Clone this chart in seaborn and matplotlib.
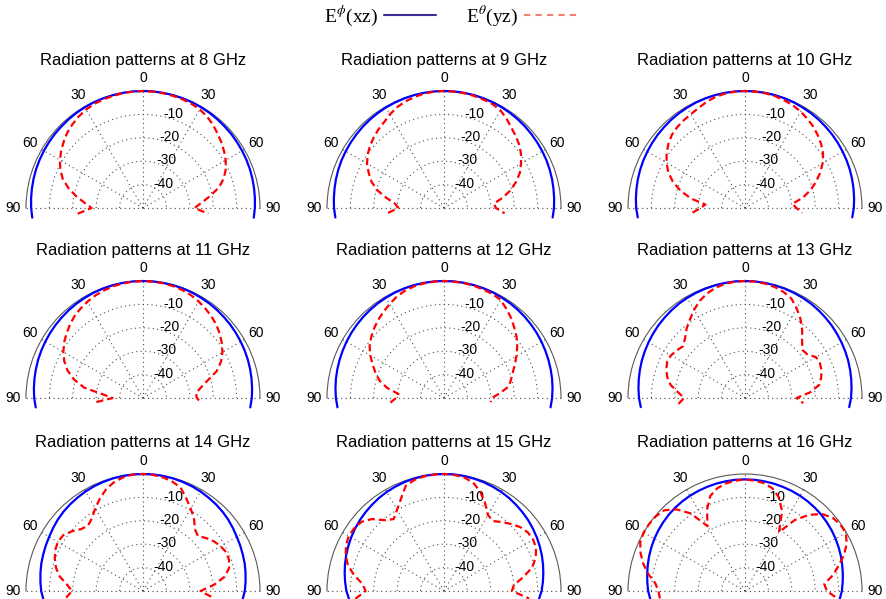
import numpy as np
import matplotlib
matplotlib.use("Agg")
import matplotlib.pyplot as plt
from matplotlib.lines import Line2D
import seaborn as sns

# angles in degrees, 0 = broadside (top), positive to the right
angles = [-95, -90, -85, -80, -75, -70, -65, -60, -55, -50, -45, -40, -35, -30, -25, -20, -15, -10, -5,
          0, 5, 10, 15, 20, 25, 30, 35, 40, 45, 50, 55, 60, 65, 70, 75, 80, 85, 90, 95]

freqs = [8, 9, 10, 11, 12, 13, 14, 15, 16]

# E-theta (yz plane), dB
red_8 = [-22, -28, -25, -21, -17, -13.5, -11, -9, -7.3, -5.8, -4.3, -3.2, -2.2, -1.4, -0.9, -0.6, -0.4, -0.2, -0.1,
         0, -0.1, -0.2, -0.4, -0.6, -0.9, -1.4, -2.3, -3.5, -5, -6.3, -7.7, -9.2, -11, -13.3, -16.5, -21, -25, -28, -22]
red_9 = [-26, -30.5, -29, -25, -20.4, -17, -14.5, -12, -10.2, -8.7, -7.5, -6.3, -5.3, -3.8, -2.5, -1.6, -0.9, -0.4, -0.1,
         0, -0.1, -0.2, -0.4, -0.7, -1.0, -1.8, -3.4, -5.2, -6.6, -8.0, -9.8, -12, -14.2, -17.2, -20.5, -24.5, -28.6, -27.8, -24]
red_10 = [-27.5, -31, -33, -26.5, -21.5, -17.2, -13.8, -11.3, -9.1, -7.3, -5.8, -4.9, -4.3, -3.7, -2.9, -1.8, -0.9, -0.4, -0.1,
          0, -0.1, -0.2, -0.5, -1.0, -1.6, -2.4, -3.5, -4.6, -6, -7.5, -9.3, -11.7, -14.6, -17.8, -21.2, -25, -29.7, -28, -25.5]
red_11 = [-30, -37, -33, -24.5, -19.5, -15.7, -12.9, -10.7, -8.8, -7.3, -5.8, -4.4, -3.4, -2.5, -1.7, -1.1, -0.6, -0.3, -0.1,
          0, -0.1, -0.2, -0.5, -0.9, -1.5, -2.4, -3.4, -4.5, -5.7, -7.2, -8.9, -10.8, -13.2, -16.5, -21.5, -25, -27.3, -27, -25]
red_12 = [-27, -29.5, -30.5, -25.4, -21.5, -18.9, -16.4, -13.6, -11.2, -9.4, -7.8, -6.3, -5, -3.6, -2.2, -1.2, -0.6, -0.3, -0.1,
          0, -0.1, -0.2, -0.4, -0.7, -1.0, -1.6, -3.5, -5.4, -7.5, -9.5, -11.8, -14.3, -16.6, -18.8, -20.4, -22, -26, -29.5, -30]
red_13 = [-21.5, -24, -21.2, -17.7, -15.6, -14.2, -13.3, -13.5, -14.5, -15.5, -13.8, -11.2, -9, -6.5, -4.2, -2.5, -1.2, -0.5, -0.1,
          0, -0.1, -0.4, -0.9, -1.8, -3.1, -5.8, -8.7, -12, -15.5, -18, -17.5, -15, -14.7, -15.2, -16.3, -17.8, -22, -28, -25]
red_14 = [-17, -19.7, -17.3, -13.8, -11.5, -9.9, -8.6, -8, -8.4, -10.3, -12.6, -13.5, -12, -9.2, -6.4, -3.8, -1.9, -0.7, -0.1,
          0, -0.2, -0.7, -1.6, -3, -6.3, -9.3, -12, -15.5, -16.8, -14.8, -13, -11.7, -10.8, -10.9, -11.9, -14.5, -19.5, -25.4, -20.5]
red_15 = [-12, -16.5, -15, -11, -7.5, -5.3, -3.8, -3, -3.2, -4, -6.5, -10.5, -12.5, -9.9, -6.5, -2.2, -0.9, -0.3, -0.1,
          0, -0.2, -0.7, -2, -4.8, -8.5, -12.5, -13.5, -11.5, -9.5, -7.5, -6.3, -6, -6.6, -8.3, -11, -15.5, -20, -21, -13.5]
red_16 = [-13.5, -13, -11.5, -8, -5, -2.5, -0.6, 0, 0, -0.3, -1.2, -4.5, -9.5, -18, -11.6, -6.7, -4.5, -3.3, -2.7,
          -2.3, -2.7, -3.2, -4.6, -7.5, -12.5, -21, -13, -7.5, -3.5, -1.2, -0.3, -0.3, -2, -5, -8.6, -12, -16, -15, -10]

# E-phi (xz plane), dB
blue_8 = [-2.5, -2.2, -2.0, -1.8, -1.6, -1.4, -1.25, -1.1, -0.95, -0.8, -0.7, -0.55, -0.4, -0.3, -0.2, -0.15, -0.1, -0.05, 0,
          0, 0, -0.05, -0.1, -0.15, -0.2, -0.3, -0.4, -0.55, -0.7, -0.8, -0.95, -1.1, -1.25, -1.4, -1.6, -1.8, -2.0, -2.2, -2.5]
blue_9 = [-3.4, -3.0, -2.75, -2.5, -2.2, -1.95, -1.7, -1.5, -1.3, -1.1, -0.9, -0.7, -0.55, -0.4, -0.3, -0.2, -0.1, -0.05, 0,
          0, 0, -0.05, -0.1, -0.2, -0.3, -0.4, -0.55, -0.7, -0.9, -1.1, -1.3, -1.5, -1.7, -1.95, -2.2, -2.5, -2.75, -3.0, -3.4]
blue_10 = [-4.0, -3.5, -3.2, -2.9, -2.6, -2.3, -2.05, -1.8, -1.55, -1.3, -1.1, -0.85, -0.65, -0.5, -0.3, -0.2, -0.1, -0.05, 0,
           0, 0, -0.05, -0.1, -0.2, -0.3, -0.5, -0.65, -0.85, -1.1, -1.3, -1.55, -1.8, -2.05, -2.3, -2.6, -2.9, -3.2, -3.5, -4.0]
blue_11 = [-4.0, -3.5, -3.2, -2.9, -2.6, -2.3, -2.05, -1.8, -1.55, -1.3, -1.1, -0.85, -0.65, -0.5, -0.3, -0.2, -0.1, -0.05, 0,
           0, 0, -0.05, -0.1, -0.2, -0.3, -0.5, -0.65, -0.85, -1.1, -1.3, -1.55, -1.8, -2.05, -2.3, -2.6, -2.9, -3.2, -3.5, -4.0]
blue_12 = [-4.3, -3.8, -3.45, -3.1, -2.8, -2.5, -2.2, -1.9, -1.6, -1.35, -1.1, -0.85, -0.65, -0.5, -0.3, -0.2, -0.1, -0.05, 0,
           0, 0, -0.05, -0.1, -0.2, -0.3, -0.5, -0.65, -0.85, -1.1, -1.35, -1.6, -1.9, -2.2, -2.5, -2.8, -3.1, -3.45, -3.8, -4.3]
blue_13 = [-5.3, -4.7, -4.3, -3.9, -3.5, -3.1, -2.75, -2.4, -2.05, -1.7, -1.4, -1.1, -0.8, -0.6, -0.45, -0.3, -0.2, -0.1, 0,
           0, 0, -0.1, -0.2, -0.3, -0.45, -0.6, -0.8, -1.1, -1.4, -1.7, -2.05, -2.4, -2.75, -3.1, -3.5, -3.9, -4.3, -4.7, -5.3]
blue_14 = [-7.3, -6.5, -6.0, -5.5, -5.0, -4.6, -4.15, -3.7, -3.1, -2.5, -2.0, -1.6, -1.25, -0.9, -0.6, -0.4, -0.2, -0.1, 0,
           0, 0, -0.1, -0.2, -0.4, -0.6, -0.9, -1.25, -1.6, -2.0, -2.5, -3.1, -3.7, -4.15, -4.6, -5.0, -5.5, -6.0, -6.5, -7.3]
blue_15 = [-9.3, -8.3, -7.6, -6.9, -6.2, -5.5, -4.85, -4.2, -3.6, -3.0, -2.5, -2.0, -1.5, -1.1, -0.8, -0.5, -0.3, -0.1, 0,
           0, 0, -0.1, -0.3, -0.5, -0.8, -1.1, -1.5, -2.0, -2.5, -3.0, -3.6, -4.2, -4.85, -5.5, -6.2, -6.9, -7.6, -8.3, -9.3]
blue_16 = [-9.4, -8.6, -8.1, -7.55, -7.0, -6.4, -5.85, -5.3, -4.8, -4.35, -3.9, -3.55, -3.25, -3.0, -2.8, -2.65, -2.5, -2.4, -2.3,
           -2.3, -2.3, -2.4, -2.5, -2.65, -2.8, -3.0, -3.25, -3.55, -3.9, -4.35, -4.8, -5.3, -5.85, -6.4, -7.0, -7.55, -8.1, -8.6, -9.4]

red_series = [red_8, red_9, red_10, red_11, red_12, red_13, red_14, red_15, red_16]
blue_series = [blue_8, blue_9, blue_10, blue_11, blue_12, blue_13, blue_14, blue_15, blue_16]

ring_ticks = [-40, -30, -20, -10]
angle_ticks = [-90, -60, -30, 0, 30, 60, 90]
angle_labels = ['90', '60', '30', '0', '30', '60', '90']

sns.set_style("white")
plt.rcParams['font.family'] = ['Liberation Sans', 'DejaVu Sans']
plt.rcParams['mathtext.fontset'] = 'stix'
plt.rcParams['text.color'] = 'black'

W, H = 886, 599
R = 115          # wanted radius of each half disc in pixels
K = 2.035        # polar wedge only fills about half of its axes box
col_x = [143, 444, 745]
row_y = [207, 397, 590]
grid_style = dict(linestyle=(0, (1, 3)), color='0.3', linewidth=0.8)

fig = plt.figure(figsize=(W / 100, H / 100), dpi=100)
theta = np.deg2rad(angles)

for i, f in enumerate(freqs):
    cx = col_x[i % 3]
    cy = row_y[i // 3]
    bw, bh = 2 * R * K, R * K
    mid_y = cy - R / 2
    ax = fig.add_axes([(cx - bw / 2) / W, (H - mid_y - bh / 2) / H, bw / W, bh / H], projection='polar')
    ax.set_theta_zero_location('N')
    ax.set_theta_direction(-1)
    ax.set_thetamin(-90)
    ax.set_thetamax(90)

    sns.lineplot(x=theta, y=blue_series[i], ax=ax, color='#0000ff', lw=1.6,
                 sort=False, estimator=None, clip_on=False, zorder=3)
    sns.lineplot(x=theta, y=red_series[i], ax=ax, color='#ff0000', lw=1.6,
                 linestyle=(0, (3.2, 1.8)), sort=False, estimator=None, clip_on=False, zorder=4)

    ax.set_rlim(-50, 0)
    ax.set_rticks(ring_ticks)
    ax.set_yticklabels([])
    ax.set_xticks(np.deg2rad(angle_ticks))
    ax.set_xticklabels([])
    ax.tick_params(length=0)
    ax.grid(True, **grid_style)
    # the 90 degree spokes sit on the wedge edge and get clipped, draw them again
    for edge in (-np.pi / 2, np.pi / 2):
        ax.plot([edge, edge], [-50, 0], clip_on=False, zorder=1, **grid_style)
    ax.set_xlabel('')
    ax.set_ylabel('')
    # polar axes turn the straight edge spines back on at draw time, so blank them instead
    ax.spines['start'].set_color('none')
    ax.spines['end'].set_color('none')
    ax.spines['polar'].set_color('0.35')
    ax.spines['polar'].set_linewidth(0.8)

    for a, lab in zip(angle_ticks, angle_labels):
        ax.text(np.deg2rad(a), 5.7, lab, ha='center', va='center', fontsize=10)
    for r in ring_ticks:
        ax.annotate(str(r), xy=(np.deg2rad(8), r), xytext=(5, -2), textcoords='offset points',
                    ha='left', va='baseline', fontsize=10)

    fig.text(cx / W, 1 - (cy - 147) / H, f'Radiation patterns at {f} GHz',
             ha='center', va='center', fontsize=12)

handles = [Line2D([], [], color='#3b2c96', lw=1.5),
           Line2D([], [], color='#f0806e', lw=1.5, linestyle=(0, (3, 2.5)))]
fig.legend(handles, [r'E$^{\phi}$(xz)', r'E$^{\theta}$(yz)'], loc='center',
           bbox_to_anchor=(450 / W, 1 - 16 / H), ncol=2, frameon=False, markerfirst=False,
           handlelength=2.7, handletextpad=0.3, columnspacing=1.5,
           prop={'family': 'Liberation Serif', 'size': 14})

fig.savefig('out.png', dpi=100)
